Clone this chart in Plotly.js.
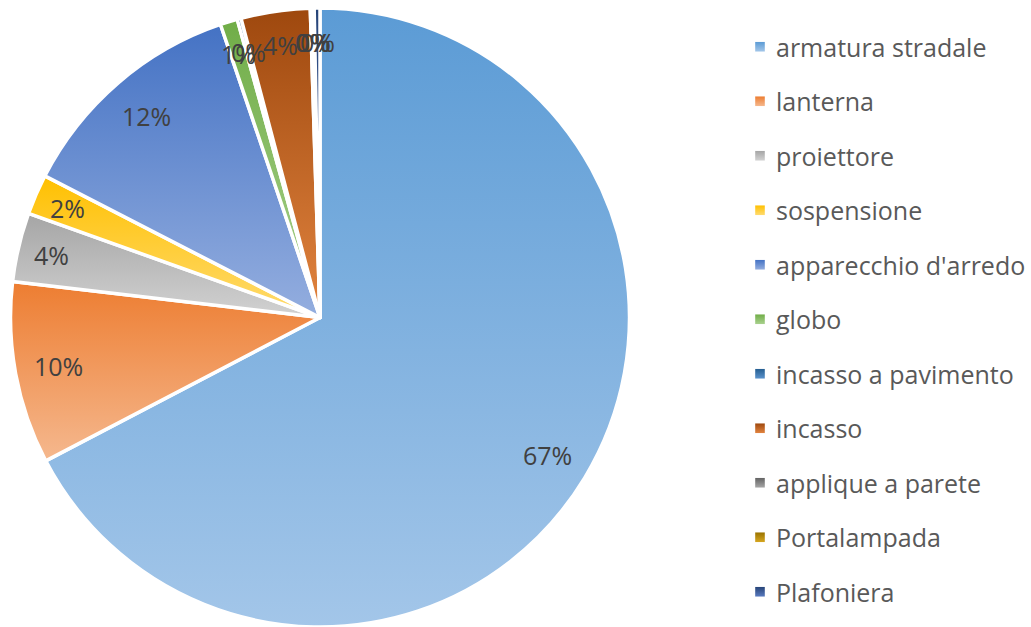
<!DOCTYPE html>
<html><head><meta charset="utf-8">
<script src="https://cdn.plot.ly/plotly-3.0.1.min.js"></script>
<style>html,body{margin:0;padding:0;background:#fff;} #chart{width:1031px;height:627px;}</style>
</head><body><div id="chart"></div>
<script>
const labels = ['armatura stradale','lanterna','proiettore','sospensione',"apparecchio d'arredo",'globo','incasso a pavimento','incasso','applique a parete','Portalampada','Plafoniera'];
const values = [67.2, 9.5, 3.6, 2.1, 12.2, 0.9, 0.2, 3.6, 0.1, 0.1, 0.3];
const topColors = ['#5B9BD5','#ED7D31','#A5A5A5','#FFC000','#4472C4','#70AD47','#255E91','#9E480E','#636363','#997300','#264478'];
const bottomColors = ['#A3C6E9','#F5B88E','#D2D2D2','#FFDB70','#94AEDF','#A9D18E','#5B93CC','#E2843F','#A6A6A6','#D6A620','#5A7BC0'];
const midColors = ['#7EB0E0','#F09A5E','#BBBBBB','#FFCC3A','#6B8FD2','#8CBF6A','#3A78B8','#C46428','#858585','#B88C10','#3F5F9C'];

const W = 1031, H = 627, M = {l:0, r:0, t:8, b:0};
const domainX = [0, 640/1031];
const plotW = W - M.l - M.r, plotH = H - M.t - M.b;
const R = Math.min(plotW*(domainX[1]-domainX[0]), plotH)/2;
const cxP = (domainX[0]+domainX[1])/2, cyP = 0.5;

const total = values.reduce((a,b)=>a+b,0);
let cum = 0;
const annotations = values.map((v,i)=>{
  const mid = (cum + v/2)/total*2*Math.PI;
  cum += v;
  const labelR = (v/total < 0.05) ? 0.89 : 0.86;
  return {
    xref:'paper', yref:'paper', showarrow:false, xanchor:'center', yanchor:'middle',
    x: cxP + labelR*R*Math.sin(mid)/plotW,
    y: cyP + labelR*R*Math.cos(mid)/plotH,
    text: Math.round(v/total*100) + '%',
    font:{family:'Open Sans', size:25, color:'#404040'}
  };
});

const data = [{
  type:'pie', labels:labels, values:values, sort:false, direction:'clockwise', rotation:0,
  textinfo:'none', hoverinfo:'skip',
  marker:{colors:midColors, line:{color:'#ffffff', width:3.5}},
  domain:{x:domainX, y:[0,1]}
}];
const layout = {
  width:W, height:H, margin:M, paper_bgcolor:'#fff', plot_bgcolor:'#fff',
  showlegend:true,
  legend:{x:736/1031, xanchor:'left', y:1, yanchor:'top', bgcolor:'rgba(0,0,0,0)',
          font:{family:'Open Sans', size:25, color:'#595959'}},
  annotations:annotations
};
const gd = document.getElementById('chart');
Plotly.newPlot(gd, data, layout, {staticPlot:true, displayModeBar:false}).then(()=>{
  const NS = 'http://www.w3.org/2000/svg';
  const svg = gd.querySelector('svg.main-svg');
  let defs = svg.querySelector('defs');
  if(!defs){ defs = document.createElementNS(NS,'defs'); svg.insertBefore(defs, svg.firstChild); }
  labels.forEach((l,i)=>{
    const g = document.createElementNS(NS,'linearGradient');
    g.setAttribute('id','sg'+i);
    g.setAttribute('x1','0'); g.setAttribute('y1','0'); g.setAttribute('x2','0'); g.setAttribute('y2','1');
    [[0,topColors[i]],[1,bottomColors[i]]].forEach(([o,c])=>{
      const s = document.createElementNS(NS,'stop');
      s.setAttribute('offset', o); s.setAttribute('stop-color', c);
      g.appendChild(s);
    });
    defs.appendChild(g);
  });
  gd.querySelectorAll('g.slice path.surface').forEach((p,i)=>{ p.style.fill = 'url(#sg'+i+')'; });
  // legend layout
  const legend = gd.querySelector('g.legend');
  legend.querySelectorAll('[clip-path]').forEach(e=>e.removeAttribute('clip-path'));
  const items = legend.querySelectorAll('g.traces');
  const spacing = 54.5;
  items.forEach((g,i)=>{
    const t = g.getAttribute('transform') || '';
    const m = t.match(/translate\(\s*([-\d.]+)[ ,]+([-\d.]+)/);
    const x = m ? parseFloat(m[1]) : 0;
    if(i===0) legend._y0 = m ? parseFloat(m[2]) : 0;
    g.setAttribute('transform', 'translate(' + x + ',' + (legend._y0 + i*spacing) + ')');
    const p = g.querySelector('path.legendpie');
    if(p){
      p.setAttribute('transform', 'translate(24,0) scale(0.8)');
      p.style.fill = 'url(#sg'+i+')';
      p.style.strokeWidth = '0px';
    }
  });
  const t0 = items[0].querySelector('text.legendtext').getBoundingClientRect();
  const gr = svg.getBoundingClientRect();
  const dy = 46.5 - ((t0.top + t0.bottom)/2 - gr.top);
  const dx = 776 - (t0.left - gr.left);
  const lt = legend.getAttribute('transform');
  const lm = lt.match(/translate\(\s*([-\d.]+)[ ,]+([-\d.]+)/);
  legend.setAttribute('transform', 'translate(' + (parseFloat(lm[1])+dx) + ',' + (parseFloat(lm[2])+dy) + ')');
});
</script></body></html>
